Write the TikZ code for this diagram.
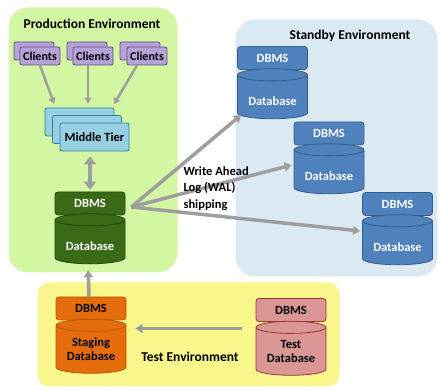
\documentclass[tikz,border=0pt]{standalone}
\usepackage{fontspec}
\setmainfont{Carlito}
\usetikzlibrary{arrows.meta,shapes.geometric,calc}

\definecolor{prodbg}{RGB}{210,246,162}
\definecolor{standbg}{RGB}{218,233,242}
\definecolor{testbg}{RGB}{249,246,140}
\definecolor{clientfill}{RGB}{181,162,214}
\definecolor{clientline}{RGB}{96,74,138}
\definecolor{tierfill}{RGB}{150,208,226}
\definecolor{tierline}{RGB}{49,128,156}
\definecolor{greenfill}{RGB}{58,106,22}
\definecolor{greenline}{RGB}{36,70,12}
\definecolor{bluefill}{RGB}{79,129,189}
\definecolor{blueline}{RGB}{56,93,138}
\definecolor{orangefill}{RGB}{228,108,10}
\definecolor{orangeline}{RGB}{182,87,8}
\definecolor{pinkfill}{RGB}{217,150,148}
\definecolor{pinkline}{RGB}{149,55,53}
\definecolor{arrowgray}{RGB}{158,158,158}

\tikzset{
  envbox/.style={draw=white, line width=1pt, rounded corners=20pt},
  envtitle/.style={font=\bfseries\fontsize{13.5}{16}\selectfont},
  clientbox/.style={draw=clientline, fill=clientfill, line width=0.8pt, rounded corners=2pt,
    minimum width=40pt, minimum height=18pt, inner sep=0pt, font=\bfseries\fontsize{12}{14}\selectfont},
  tierbox/.style={draw=tierline, fill=tierfill, line width=0.8pt, rounded corners=2pt,
    minimum width=69pt, minimum height=28pt, inner sep=0pt, font=\bfseries\fontsize{12.5}{15}\selectfont},
  dbmsbox/.style={line width=0.8pt, rounded corners=3pt, minimum width=70pt, minimum height=23pt,
    inner sep=0pt, font=\bfseries\fontsize{12.5}{15}\selectfont},
  dbcyl/.style={cylinder, shape border rotate=90, aspect=0.25, line width=0.8pt,
    minimum width=70pt, minimum height=50pt, inner sep=0pt, align=center,
    font=\bfseries\fontsize{12.5}{14}\selectfont},
  lowtext/.style={text height=18pt, text depth=0pt},
  greendb/.style={draw=greenline, fill=greenfill, text=white},
  bluedb/.style={draw=blueline, fill=bluefill, text=white},
  orangedb/.style={draw=orangeline, fill=orangefill},
  pinkdb/.style={draw=pinkline, fill=pinkfill},
  thinarrow/.style={draw=arrowgray, line width=2.5pt, -{Triangle[width=7pt,length=6pt]}},
  fatarrow/.style={draw=arrowgray, line width=3.5pt, -{Triangle[width=9pt,length=7pt]}},
}

\begin{document}
\begin{tikzpicture}[x=1pt,y=-1pt]
\useasboundingbox (0,0) rectangle (440,390);

% environments
\filldraw[envbox, fill=prodbg] (8,7) rectangle (178,273);
\filldraw[envbox, fill=standbg] (235,19) rectangle (438,277);
\filldraw[envbox, fill=testbg, rounded corners=12pt] (37,282) rectangle (340,387);
\node[envtitle] (prodtitle) at (92,24) {Production Environment};
\node[envtitle] (standtitle) at (350,36) {Standby Environment};
\node[envtitle] (testtitle) at (190,357) {Test Environment};

% clients
\node[clientbox] (c1b) at (34,51) {};
\node[clientbox] (c1) at (40,56) {Clients};
\node[clientbox] (c2b) at (87,51) {};
\node[clientbox] (c2) at (93,56) {Clients};
\node[clientbox] (c3b) at (140,51) {};
\node[clientbox] (c3) at (147,56) {Clients};

% middle tier
\node[tierbox] (tierb) at (79.5,122) {};
\node[tierbox] (tierm) at (87,129.5) {};
\node[tierbox] (tier) at (94.5,137) {Middle Tier};

% production database
\node[dbmsbox, greendb] (gdbms) at (90,203.5) {DBMS};
\node[dbcyl, greendb, lowtext] (gdb) at (90,242) {Database};

% standby databases
\node[dbmsbox, bluedb] (sdbms1) at (272.5,58) {DBMS};
\node[dbcyl, bluedb, lowtext] (db1) at (272.5,97) {Database};
\node[dbmsbox, bluedb] (sdbms2) at (329,133.5) {DBMS};
\node[dbcyl, bluedb, lowtext] (db2) at (329,172) {Database};
\node[dbmsbox, bluedb] (sdbms3) at (397.5,204) {DBMS};
\node[dbcyl, bluedb, lowtext] (db3) at (397.5,243) {Database};

% test databases
\node[dbmsbox, orangedb] (stdbms) at (91,308.5) {DBMS};
\node[dbcyl, orangedb, minimum height=54pt] (sdb) at (91,349.5) {Staging\\Database};
\node[dbmsbox, pinkdb] (tdbms) at (291,310) {DBMS};
\node[dbcyl, pinkdb, minimum height=54pt] (tdb) at (291,351.5) {Test\\Database};

% arrows
\draw[thinarrow, shorten >=4pt] (c1.south) -- ([xshift=-24pt]tierb.north);
\draw[thinarrow, shorten >=4pt] ([xshift=-5pt]c2.south) -- ([xshift=8.5pt]tierb.north);
\draw[thinarrow, shorten >=4pt] ([xshift=-10pt]c3.south) -- ([xshift=32.5pt]tierb.north);
\draw[draw=arrowgray, line width=4.5pt, {Triangle[width=12pt,length=8pt]}-{Triangle[width=12pt,length=8pt]},
  shorten <=5pt, shorten >=2pt] (gdbms.north |- tier.south) -- (gdbms.north);

\coordinate (wal) at ($(gdbms.east)+(6,3.5)$);
\draw[fatarrow] (wal) -- ($(db1.west)+(4,18)$);
\draw[fatarrow] (wal) -- ($(db2.west)+(-2,-7)$);
\draw[fatarrow] (wal) -- ($(db3.west)+(-2,-12)$);
\node[anchor=north west, align=left, font=\bfseries\fontsize{12.5}{16.5}\selectfont] (wallabel)
  at (180,163) {Write Ahead\\Log (WAL)\\shipping};

\coordinate (tarr) at ($(tdb.west)+(-14,-23)$);
\draw[fatarrow, shorten >=9pt] (tarr) -- (tarr -| sdb.east);
\draw[fatarrow, shorten >=6pt] ([xshift=-2pt]stdbms.north) -- ([xshift=-2pt]gdb.south);
\end{tikzpicture}
\end{document}
